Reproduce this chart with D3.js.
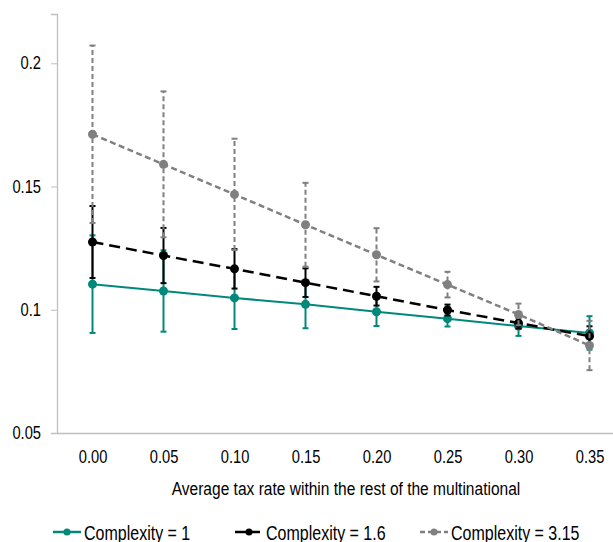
<!DOCTYPE html>
<html>
<head>
<meta charset="utf-8">
<script src="https://cdn.jsdelivr.net/npm/d3@7"></script>
<style>
  body { margin: 0; background: #fff; }
  text { font-family: "Liberation Sans", Arial, sans-serif; fill: #000; }
</style>
</head>
<body>
<svg id="chart" width="613" height="542"></svg>
<script>
// tax rates on the x axis
var rates = ["0.00", "0.05", "0.10", "0.15", "0.20", "0.25", "0.30", "0.35"];

// complexity = 1
var c1 = [0.1104, 0.1076, 0.1048, 0.1022, 0.0992, 0.0964, 0.0934, 0.0906];
var c1err = [0.0198, 0.0165, 0.0126, 0.0097, 0.0058, 0.0032, 0.0040, 0.0068];
// complexity = 1.6
var c16 = [0.1275, 0.1220, 0.1166, 0.1110, 0.1055, 0.0999, 0.0946, 0.0893];
var c16err = [0.0146, 0.0112, 0.0080, 0.0058, 0.0038, 0.0022, 0.0022, 0.0040];
// complexity = 3.15
var c315 = [0.1712, 0.1590, 0.1468, 0.1345, 0.1223, 0.1102, 0.0981, 0.0855];
var c315err = [0.0360, 0.0296, 0.0226, 0.0170, 0.0108, 0.0052, 0.0044, 0.0100];

var yTicks = [0.05, 0.1, 0.15, 0.2];
var seriesNames = ["Complexity = 1", "Complexity = 1.6", "Complexity = 3.15"];

var series = [
  { name: seriesNames[0], vals: c1, err: c1err, color: "#00897b", dash: null, errDash: null, width: 2 },
  { name: seriesNames[1], vals: c16, err: c16err, color: "#000000", dash: "11,6", errDash: null, width: 2.5 },
  { name: seriesNames[2], vals: c315, err: c315err, color: "#808080", dash: "6,3.5", errDash: "5,3", width: 2.5 }
];

var svg = d3.select("#chart");
var pLeft = 57, pRight = 625, pTop = 14, pBottom = 433;
var narrow = 0.84; // squeeze text to look like a narrow font

var x = d3.scalePoint().domain(rates).range([pLeft, pRight]).padding(0.5);
var y = d3.scaleLinear().domain([0.05, 0.22]).range([pBottom, pTop]);

// axes
var yAxis = svg.append("g")
  .attr("transform", "translate(" + pLeft + ",0)")
  .call(d3.axisLeft(y).tickValues(yTicks).tickSize(6).tickPadding(10).tickFormat(function(d) { return String(+d.toFixed(2)); }));
yAxis.select(".domain").attr("stroke", "#bfbfbf").attr("stroke-width", 1.3);
yAxis.selectAll(".tick line").attr("stroke", "#bfbfbf");
yAxis.selectAll("text").attr("font-size", 17.5).attr("fill", "#000")
  .attr("x", -16 / narrow)
  .attr("transform", "scale(" + narrow + ",1)");

var xAxis = svg.append("g")
  .attr("transform", "translate(0," + pBottom + ")")
  .call(d3.axisBottom(x).tickSize(0).tickPadding(18));
xAxis.select(".domain").attr("stroke", "#bfbfbf").attr("stroke-width", 1.3);
xAxis.selectAll("text").attr("font-size", 17.5).attr("fill", "#000")
  .attr("transform", "scale(" + narrow + ",1)");

svg.append("g").attr("transform", "translate(346,495)")
  .append("text")
  .attr("text-anchor", "middle")
  .attr("font-size", 18.5)
  .attr("transform", "scale(" + narrow + ",1)")
  .text("Average tax rate within the rest of the multinational");

// error bars, lines, markers
var line = d3.line().x(function(d, i) { return x(rates[i]); }).y(function(d) { return y(d); });

series.forEach(function(s) {
  var g = svg.append("g");
  s.vals.forEach(function(v, i) {
    var cx = x(rates[i]);
    g.append("line")
      .attr("x1", cx).attr("x2", cx)
      .attr("y1", y(v - s.err[i])).attr("y2", y(v + s.err[i]))
      .attr("stroke", s.color).attr("stroke-width", 2)
      .attr("stroke-dasharray", s.errDash);
    [v - s.err[i], v + s.err[i]].forEach(function(e) {
      g.append("line")
        .attr("x1", cx - 3).attr("x2", cx + 3)
        .attr("y1", y(e)).attr("y2", y(e))
        .attr("stroke", s.color).attr("stroke-width", 2);
    });
  });
  g.append("path")
    .attr("d", line(s.vals))
    .attr("fill", "none")
    .attr("stroke", s.color)
    .attr("stroke-width", s.width)
    .attr("stroke-dasharray", s.dash);
  g.selectAll("circle").data(s.vals).enter().append("circle")
    .attr("cx", function(d, i) { return x(rates[i]); })
    .attr("cy", function(d) { return y(d); })
    .attr("r", 4.5)
    .attr("fill", s.color);
});

// legend
var legendX = [53, 235, 420];
series.forEach(function(s, i) {
  var lg = svg.append("g").attr("transform", "translate(" + legendX[i] + ",532)");
  lg.append("line").attr("x1", 0).attr("x2", 28).attr("y1", 0).attr("y2", 0)
    .attr("stroke", s.color).attr("stroke-width", 2.5)
    .attr("stroke-dasharray", i == 0 ? null : (i == 1 ? "11,3" : "5,3"));
  lg.append("circle").attr("cx", 14).attr("cy", 0).attr("r", 3.5).attr("fill", s.color);
  lg.append("g").attr("transform", "translate(31,8)")
    .append("text").attr("font-size", 20)
    .attr("transform", "scale(0.8,1)")
    .text(s.name);
});
</script>
</body>
</html>
